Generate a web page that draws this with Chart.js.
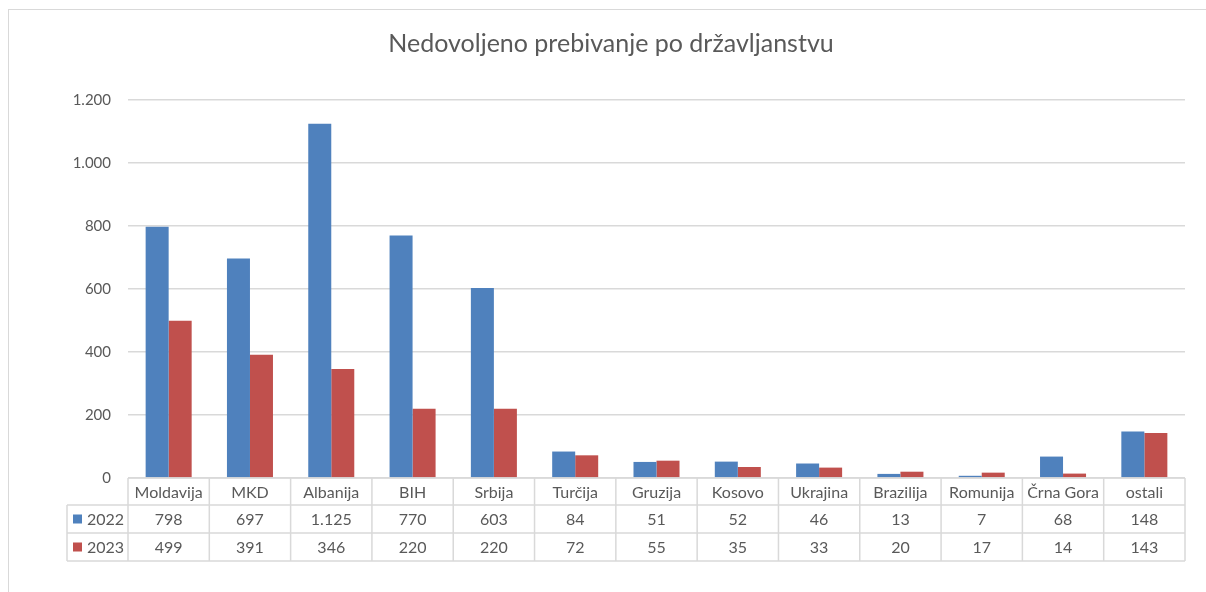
<!DOCTYPE html>
<html>
<head>
<meta charset="utf-8">
<script src="https://cdn.jsdelivr.net/npm/chart.js@4"></script>
<style>
  html, body { margin: 0; padding: 0; background: #fff; }
  #wrap { width: 1206px; height: 592px; position: relative; }
</style>
</head>
<body>
<div id="wrap"><canvas id="chart"></canvas></div>
<script>
// 데이터
const drzave = ["Moldavija", "MKD", "Albanija", "BIH", "Srbija", "Turčija", "Gruzija", "Kosovo", "Ukrajina", "Brazilija", "Romunija", "Črna Gora", "ostali"];
const leto2022 = [798, 697, 1125, 770, 603, 84, 51, 52, 46, 13, 7, 68, 148];
const leto2023 = [499, 391, 346, 220, 220, 72, 55, 35, 33, 20, 17, 14, 143];
const yTicks = [0, 200, 400, 600, 800, 1000, 1200];
const naslov = "Nedovoljeno prebivanje po državljanstvu";

const modra = "#4f81bd";
const rdeca = "#c0504d";
const besedilo = "#595959";
const mreza = "#d9d9d9";
const pisava = "Lato, 'Open Sans', sans-serif";

// 1.200 format
function stevilo(v) {
  return String(v).replace(/\B(?=(\d{3})+(?!\d))/g, ".");
}

// 제목, 테두리, 데이터 표
const tabela = {
  id: "tabela",
  afterDraw(chart) {
    const ctx = chart.ctx;
    const area = chart.chartArea;
    const n = drzave.length;
    const w = (area.right - area.left) / n;
    const top = area.bottom;
    const r1 = top + 27, r2 = top + 55, r3 = top + 83;
    const legLeft = 67;

    ctx.save();
    // chart border
    ctx.strokeStyle = mreza;
    ctx.lineWidth = 1;
    ctx.strokeRect(8.5, 9.5, 1300, 700);

    // title
    ctx.fillStyle = besedilo;
    ctx.font = "25px " + pisava;
    ctx.textAlign = "center";
    ctx.textBaseline = "middle";
    ctx.fillText(naslov, 611, 44);

    // table lines
    ctx.strokeStyle = mreza;
    ctx.lineWidth = 1.5;
    ctx.beginPath();
    ctx.moveTo(area.left, top); ctx.lineTo(area.right, top);
    [r1, r2, r3].forEach(y => { ctx.moveTo(legLeft, y); ctx.lineTo(area.right, y); });
    ctx.moveTo(legLeft, r1); ctx.lineTo(legLeft, r3);
    for (let i = 0; i <= n; i++) {
      const x = area.left + i * w;
      ctx.moveTo(x, top); ctx.lineTo(x, r3);
    }
    ctx.stroke();

    // table text
    ctx.font = "16px " + pisava;
    ctx.fillStyle = besedilo;
    ctx.textAlign = "center";
    const xs = chart.scales.x;
    for (let i = 0; i < n; i++) {
      const cx = xs.getPixelForValue(i);
      ctx.fillText(drzave[i], cx, (top + r1) / 2 + 1);
      ctx.fillText(stevilo(leto2022[i]), cx, (r1 + r2) / 2 + 1);
      ctx.fillText(stevilo(leto2023[i]), cx, (r2 + r3) / 2 + 1);
    }

    // legend keys
    chart.data.datasets.forEach((ds, k) => {
      const yc = k === 0 ? (r1 + r2) / 2 : (r2 + r3) / 2;
      ctx.fillStyle = ds.backgroundColor;
      ctx.fillRect(73, yc - 4.5, 9, 9);
      ctx.fillStyle = besedilo;
      ctx.textAlign = "left";
      ctx.fillText(ds.label, 87, yc + 1);
    });
    ctx.restore();
  }
};

const config = {
  type: "bar",
  data: {
    labels: drzave,
    datasets: [
      { label: "2022", data: leto2022, backgroundColor: modra },
      { label: "2023", data: leto2023, backgroundColor: rdeca }
    ]
  },
  options: {
    responsive: true,
    maintainAspectRatio: false,
    animation: false,
    layout: { padding: { left: 0, top: 100, right: 21, bottom: 114 } },
    datasets: { bar: { barPercentage: 1, categoryPercentage: 0.566 } },
    scales: {
      x: {
        afterFit(scale) { scale.height = 0; },
        ticks: { display: false },
        grid: { display: false },
        border: { display: false }
      },
      y: {
        min: 0,
        max: 1200,
        afterBuildTicks(scale) { scale.ticks = yTicks.map(v => ({ value: v })); },
        afterFit(scale) { scale.width = 128; },
        ticks: {
          padding: 17,
          color: besedilo,
          font: { size: 15, family: pisava },
          callback: v => stevilo(v)
        },
        grid: { color: mreza, lineWidth: 1.5, drawTicks: false },
        border: { display: false }
      }
    },
    plugins: {
      legend: { display: false },
      title: { display: false },
      tooltip: { enabled: false }
    }
  },
  plugins: [tabela]
};

new Chart(document.getElementById("chart").getContext("2d"), config);
</script>
</body>
</html>
